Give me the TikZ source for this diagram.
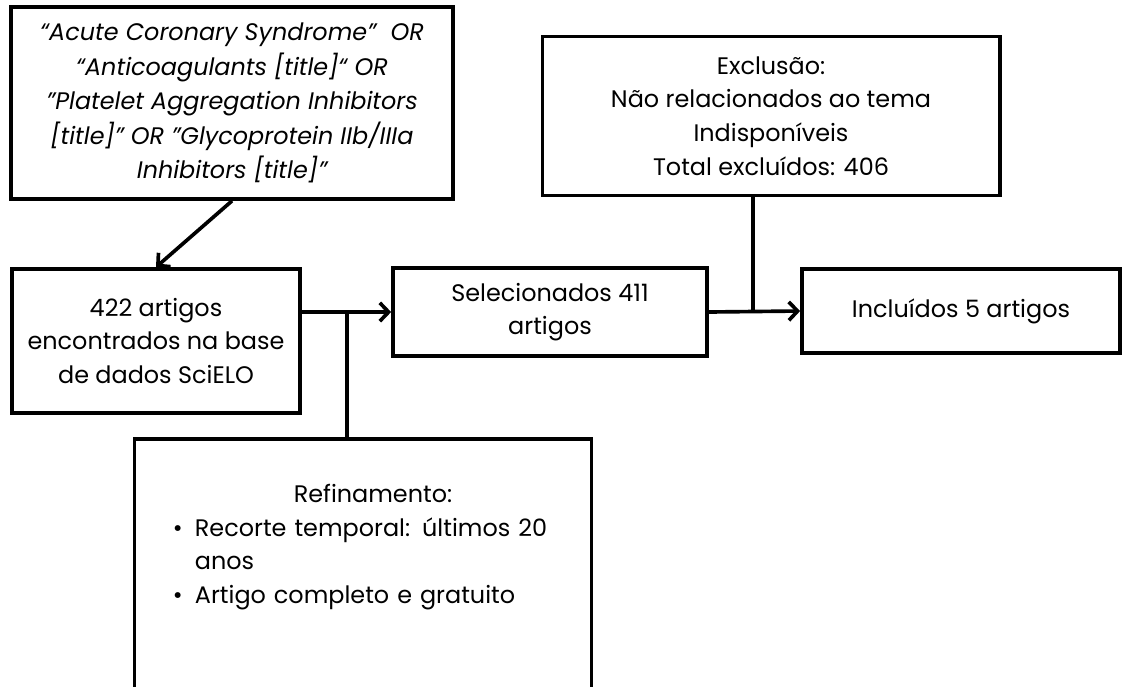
\documentclass[tikz,border=0pt]{standalone}
\usepackage{fontspec}
\setmainfont{Poppins}
\usetikzlibrary {arrows.meta}
\usetikzlibrary {positioning}

\tikzset{
    box/.style={draw, line width=2.6pt, inner sep=0pt, align=center,
        font=\fontsize{17}{24}\selectfont},
    bare/.style={inner sep=0pt, font=\fontsize{17}{24}\selectfont},
}

\begin{document}
\begin{tikzpicture}[x=0.025cm, y=-0.025cm, >={Straight Barb[length=2.2mm, width=4.6mm]}, line width=2.6pt]
    \useasboundingbox (0, 0) rectangle (1123, 686);
    \clip (0, 0) rectangle (1123, 686);

    \node[box, minimum width=11.05cm, minimum height=4.8cm, font=\fontsize{17}{24.5}\selectfont\itshape] (query) at (232, 103)
        {“Acute Coronary Syndrome”\ \ OR\\ “Anticoagulants {[}title{]}“ OR\\ ”Platelet Aggregation Inhibitors\\ {[}title{]}” OR ”Glycoprotein IIb/IIIa\\ Inhibitors {[}title{]}”};
    \node[box, minimum width=7.2cm, minimum height=3.6cm] (found) at (156, 341)
        {422 artigos\\ encontrados na base\\ de dados SciELO};
    \node[box, minimum width=7.85cm, minimum height=2.2cm] (sel) at (550, 312)
        {Selecionados 411\\ artigos};
    \node[box, minimum width=7.95cm, minimum height=2.1cm] (incl) at (961, 311)
        {Incluídos 5 artigos};
    \node[box, minimum width=11.43cm, minimum height=3.98cm] (excl) at (771, 116)
        {Exclusão:\\ Não relacionados ao tema\\ Indisponíveis\\ Total excluídos: 406};
    \node[box, minimum width=11.43cm, minimum height=8cm, anchor=north] (ref) at (363, 437) {};
    \node[bare, text width=10cm, below=1.13cm of ref.north, xshift=0.25cm] (reftxt)
        {\centering Refinamento:\par
         \raggedright
         \makebox[0.55cm][l]{•}Recorte temporal: últimos 20\par
         \hspace*{0.55cm}anos\par
         \makebox[0.55cm][l]{•}Artigo completo e gratuito\par};

    \coordinate (j1) at (347, 312);
    \coordinate (j2) at (753, 312);

    \draw[->] (query.south) -- (found.north);
    \draw[->] (sel.west -| found.east) -- (sel.west);
    \draw[->] (sel.east) -- (incl.west);
    \draw (j1) -- (j1 |- ref.north);
    \draw (j2) -- (j2 |- excl.south);
\end{tikzpicture}
\end{document}
